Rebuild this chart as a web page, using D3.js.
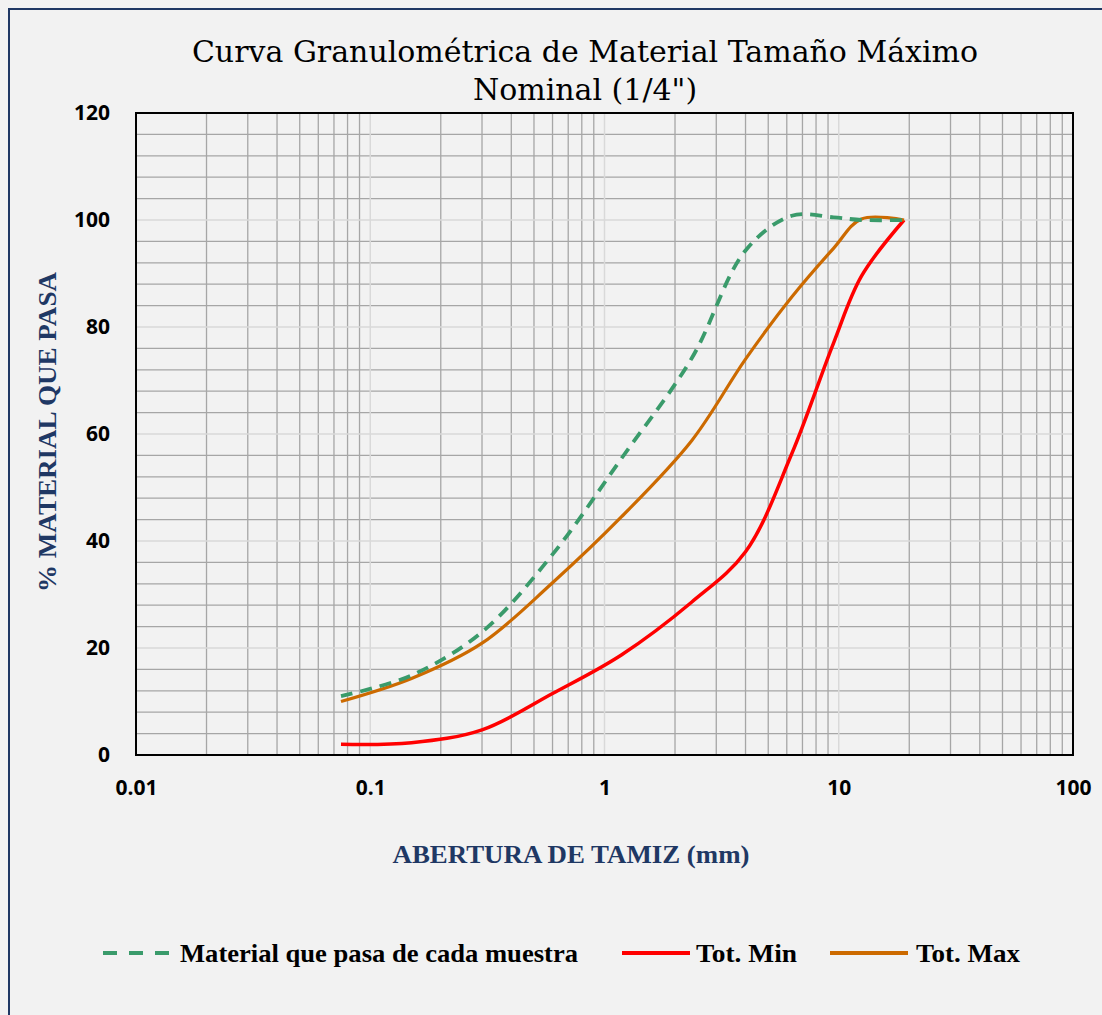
<!DOCTYPE html>
<html>
<head>
<meta charset="utf-8">
<script src="https://cdn.jsdelivr.net/npm/d3@7"></script>
<style>
  body { margin: 0; background: #f2f2f2; }
  svg { display: block; }
</style>
</head>
<body>
<svg id="chart" width="1102" height="1015"></svg>
<script>
// sieve openings (mm) and % passing
const sieves = [0.075, 0.15, 0.3, 0.6, 1.18, 2.36, 4, 6.3, 9.5, 12.5, 19];
const muestra = [11, 14.9, 23, 37.5, 55.4, 74.2, 94.3, 100.8, 100.5, 100, 100];
const totMin = [2, 2.3, 4.7, 11.5, 18.7, 28.6, 38, 56.3, 77, 89.5, 100];
const totMax = [10, 14.3, 20.9, 32.2, 44.5, 58.8, 74, 85.6, 94.7, 100.2, 100];

const xTicks = [0.01, 0.1, 1, 10, 100];
const yTicks = [0, 20, 40, 60, 80, 100, 120];
const seriesNames = ["Material que pasa de cada muestra", "Tot. Min", "Tot. Max"];

const svg = d3.select("#chart");
const width = +svg.attr("width");
const height = +svg.attr("height");

svg.append("rect")
  .attr("x", 0).attr("y", 0).attr("width", width).attr("height", height)
  .attr("fill", "#f2f2f2");
// outer frame: only the left and top edges are inside the picture
svg.append("path")
  .attr("d", `M9,${height} V9 H${width}`)
  .attr("fill", "none").attr("stroke", "#1f3864").attr("stroke-width", 2);

const margin = { top: 113, right: 29, bottom: 260, left: 136 };
const innerWidth = width - margin.left - margin.right;
const innerHeight = height - margin.top - margin.bottom;

const xScale = d3.scaleLog().domain([0.01, 100]).range([0, innerWidth]);
const yScale = d3.scaleLinear().domain([0, 120]).range([innerHeight, 0]);

const g = svg.append("g")
  .attr("transform", `translate(${margin.left}, ${margin.top})`);

// minor grid: 2..9 in each decade, every 4 % on y
const xMinor = [];
for (let e = -2; e < 2; e++) {
  for (let k = 2; k <= 9; k++) xMinor.push(k * Math.pow(10, e));
}
const yMinor = d3.range(4, 120, 4).filter(v => v % 20 !== 0);

g.append("g").selectAll("line").data(xMinor)
  .enter().append("line")
    .attr("x1", d => xScale(d)).attr("x2", d => xScale(d))
    .attr("y1", 0).attr("y2", innerHeight)
    .attr("stroke", "#a6a6a6").attr("stroke-width", 1.3);

g.append("g").selectAll("line").data(yMinor)
  .enter().append("line")
    .attr("y1", d => yScale(d)).attr("y2", d => yScale(d))
    .attr("x1", 0).attr("x2", innerWidth)
    .attr("stroke", "#a6a6a6").attr("stroke-width", 1.3);

// major grid is lighter than the minor one
g.append("g").selectAll("line").data(xTicks.slice(1, -1))
  .enter().append("line")
    .attr("x1", d => xScale(d)).attr("x2", d => xScale(d))
    .attr("y1", 0).attr("y2", innerHeight)
    .attr("stroke", "#d9d9d9").attr("stroke-width", 1.5);

g.append("g").selectAll("line").data(yTicks.slice(1, -1))
  .enter().append("line")
    .attr("y1", d => yScale(d)).attr("y2", d => yScale(d))
    .attr("x1", 0).attr("x2", innerWidth)
    .attr("stroke", "#d9d9d9").attr("stroke-width", 1.5);

// plot border
g.append("rect")
  .attr("width", innerWidth).attr("height", innerHeight)
  .attr("fill", "none").attr("stroke", "#000").attr("stroke-width", 2);

// axes (labels only)
const xAxis = d3.axisBottom(xScale)
  .tickValues(xTicks)
  .tickFormat(d => String(d))
  .tickSize(0).tickPadding(25);
const xAxisG = g.append("g").attr("transform", `translate(0, ${innerHeight})`).call(xAxis);

const yAxis = d3.axisLeft(yScale)
  .tickValues(yTicks)
  .tickSize(0).tickPadding(26);
const yAxisG = g.append("g").call(yAxis);

[xAxisG, yAxisG].forEach(a => {
  a.select(".domain").remove();
  a.attr("font-family", "'Open Sans', 'Liberation Sans', sans-serif")
    .attr("font-size", 21)
    .attr("font-weight", "bold");
  a.selectAll("text").attr("fill", "#000");
});

// curves
const line = d3.line()
  .x(d => xScale(d.x))
  .y(d => yScale(d.y))
  .curve(d3.curveCatmullRom.alpha(0.5));

const toPoints = vals => sieves.map((s, i) => ({ x: s, y: vals[i] }));

const series = [
  { name: seriesNames[1], values: totMin, color: "#ff0000", dash: null, w: 3.5 },
  { name: seriesNames[2], values: totMax, color: "#cc6a00", dash: null, w: 3.2 },
  { name: seriesNames[0], values: muestra, color: "#3a9b6b", dash: "12,8", w: 3.8 }
];

g.selectAll("path.curve").data(series)
  .enter().append("path")
    .attr("class", "curve")
    .attr("d", d => line(toPoints(d.values)))
    .attr("fill", "none")
    .attr("stroke", d => d.color)
    .attr("stroke-width", d => d.w)
    .attr("stroke-dasharray", d => d.dash);

// title
const title = svg.append("text")
  .attr("text-anchor", "middle")
  .attr("font-family", "'DejaVu Serif', serif")
  .attr("font-size", 30)
  .attr("fill", "#000");
title.append("tspan").attr("x", 585).attr("y", 62).text("Curva Granulométrica de Material Tamaño Máximo");
title.append("tspan").attr("x", 585).attr("y", 100).text("Nominal (1/4\")");

// axis titles
svg.append("text")
  .attr("transform", "translate(56, 432) rotate(-90)")
  .attr("text-anchor", "middle")
  .attr("font-family", "'Liberation Serif', serif")
  .attr("font-weight", "bold")
  .attr("font-size", 25)
  .attr("fill", "#1f3864")
  .attr("textLength", 320)
  .attr("lengthAdjust", "spacingAndGlyphs")
  .text("% MATERIAL QUE PASA");

svg.append("text")
  .attr("x", 571).attr("y", 863)
  .attr("text-anchor", "middle")
  .attr("font-family", "'Liberation Serif', serif")
  .attr("font-weight", "bold")
  .attr("font-size", 25)
  .attr("fill", "#1f3864")
  .attr("textLength", 357)
  .attr("lengthAdjust", "spacingAndGlyphs")
  .text("ABERTURA DE TAMIZ (mm)");

// legend
const legendItems = [
  { label: seriesNames[0], color: "#3a9b6b", dash: "14,12", x1: 103, x2: 175, tx: 180, tl: 398 },
  { label: seriesNames[1], color: "#ff0000", dash: null, x1: 622, x2: 690, tx: 696, tl: 101 },
  { label: seriesNames[2], color: "#cc6a00", dash: null, x1: 830, x2: 908, tx: 916, tl: 104 }
];
const legend = svg.append("g");
legend.selectAll("line").data(legendItems)
  .enter().append("line")
    .attr("x1", d => d.x1).attr("x2", d => d.x2)
    .attr("y1", 953).attr("y2", 953)
    .attr("stroke", d => d.color)
    .attr("stroke-width", 4)
    .attr("stroke-dasharray", d => d.dash);
legend.selectAll("text").data(legendItems)
  .enter().append("text")
    .attr("x", d => d.tx).attr("y", 962)
    .attr("font-family", "'Liberation Serif', serif")
    .attr("font-weight", "bold")
    .attr("font-size", 25)
    .attr("fill", "#000")
    .attr("textLength", d => d.tl)
    .attr("lengthAdjust", "spacingAndGlyphs")
    .text(d => d.label);
</script>
</body>
</html>
